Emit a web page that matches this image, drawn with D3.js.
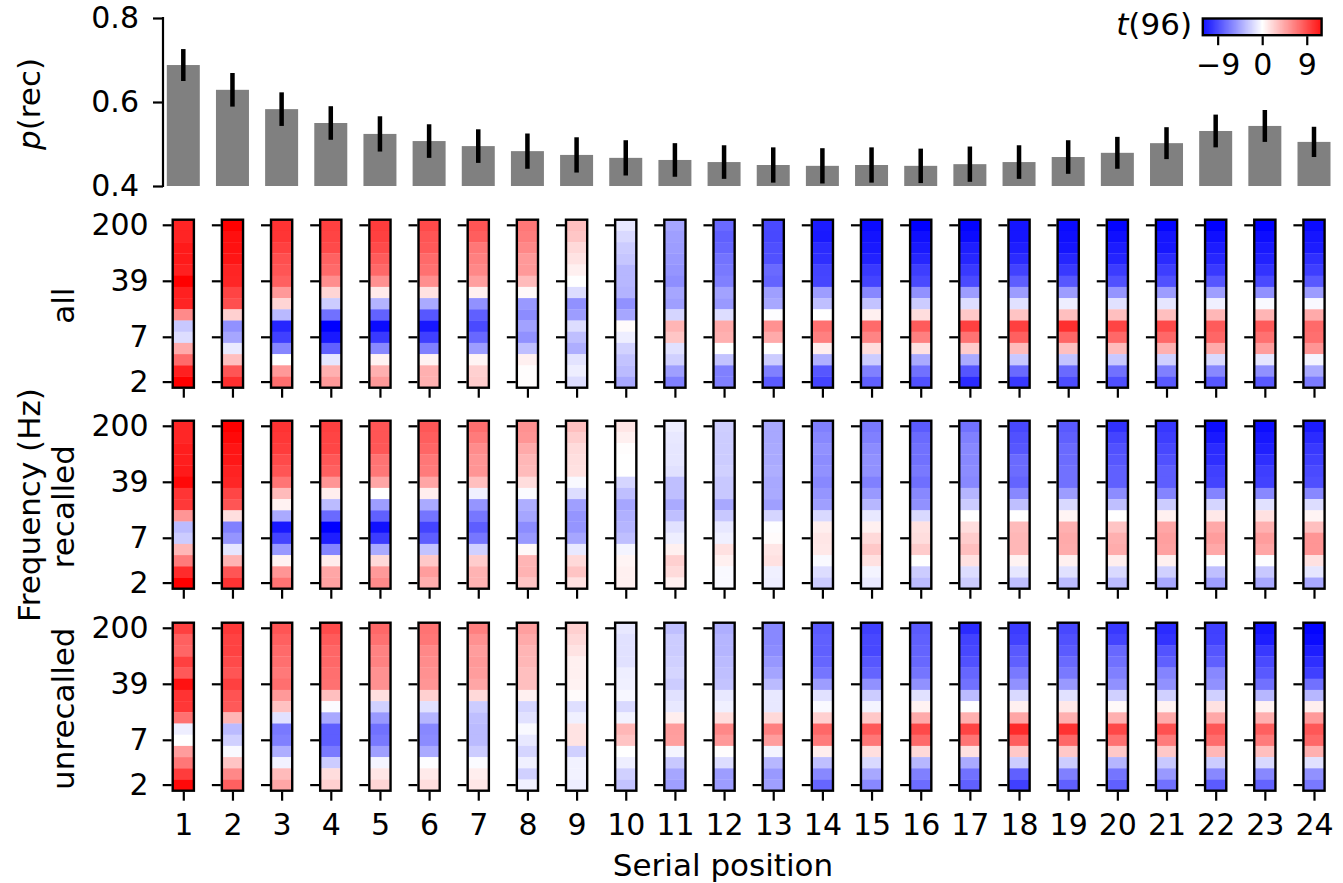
<!DOCTYPE html>
<html>
<head>
<meta charset="utf-8">
<script src="https://cdnjs.cloudflare.com/ajax/libs/d3/7.8.5/d3.min.js"></script>
<style>
	html, body { margin: 0; padding: 0; background: #fff; }
	text { font-family: "DejaVu Sans", sans-serif; fill: #000; }
</style>
</head>
<body>
<div id="fig"></div>
<script>
	// serial positions, one column per position
	var positions = d3.range(1, 25);

	// recall probability per position, with the half length of its error bar
	var pRec = [0.688,0.629,0.583,0.550,0.524,0.507,0.495,0.483,0.474,0.467,0.462,0.457,0.450,0.448,0.450,0.448,0.452,0.457,0.469,0.479,0.502,0.531,0.543,0.505];
	var pErr = [0.038,0.040,0.040,0.040,0.042,0.040,0.040,0.042,0.042,0.042,0.040,0.040,0.042,0.042,0.042,0.041,0.042,0.040,0.040,0.038,0.038,0.039,0.038,0.036];

	// frequency rows, top to bottom
	var freqs = ["200","144","104","75","54","39","28","20","14","10","7","5","4","3","2"];
	var freqTicks = ["200","39","7","2"];
	var pTicks = [0.4, 0.6, 0.8];
	var tTicks = [-9, 0, 9];

	// t values, one list of 15 rows for each serial position
	var tAll = [
		[10.3,10.3,10.8,10.8,10.5,12,10.5,10.3,5.5,-2.6,-1.6,4,7,10.5,12],
		[12,11.3,11.2,11,10.3,10.2,8.8,8.3,2.2,-5.2,-4.2,-1,3,8,9.8],
		[9.6,9.5,9,8.3,8,7.5,4.8,2,-3.3,-10.2,-9,-5.7,0,4.8,6.8],
		[9,8.8,8.5,7.4,7,5.3,2,-2.4,-6.7,-12,-10.8,-7.5,-1.2,3.7,4.8],
		[9.2,9,8.5,7.7,7.1,5.2,1,-3.6,-7.4,-11.5,-9.3,-5.6,0.6,3.7,4.8],
		[8.5,8,7.8,7,6.7,5.3,1.4,-4,-7.9,-10.9,-9,-6,0.6,3.7,3.7],
		[8,7.6,6.4,6,5.6,4.5,0.7,-5.2,-7.5,-8.5,-7.1,-4.6,0.5,2.2,2.4],
		[6.4,6.1,5.6,4.8,4.8,3.2,0.3,-4.8,-5.4,-4.4,-5.2,-3,0.7,0.1,0.1],
		[3,2.7,1.8,1.3,0.7,0,-1.6,-5.2,-4.6,-1.6,-3,-3.8,-1.3,-0.8,-1.6],
		[-1.1,-1.8,-2.4,-2.7,-3.4,-3.4,-3.6,-5.2,-4.2,0.2,-0.8,-2.1,-2.8,-3.2,-4.1],
		[-4.2,-4.5,-4.6,-4.8,-5,-5.3,-4.2,-4.5,-2,3.5,2.7,-1.4,-2.2,-4.5,-6],
		[-7,-7.5,-7.2,-6.6,-6.3,-6,-4.4,-4.8,-1.6,4,3.7,0,-2.8,-6,-6],
		[-8.5,-8.6,-8.3,-8.2,-7,-7.3,-4.5,-4.1,-0.1,5.2,4,0,-2.4,-6,-7.7],
		[-10.7,-10.8,-10,-9.8,-8.8,-8.7,-4.6,-3,0,6.7,6,0.8,-3.7,-7.9,-8.8],
		[-11.5,-11.1,-10.8,-10.4,-9.3,-8.8,-5.6,-2.8,0.7,7,5.8,1.6,-2.4,-6,-7.5],
		[-12,-11.3,-10.8,-10.2,-9.1,-8.5,-5.2,-2.4,1.6,7.7,6,1.4,-4,-6.7,-8.2],
		[-11.8,-11.5,-10.6,-10.2,-9.3,-8.5,-4.6,-1.6,2.6,9,6.6,2.4,-4,-8,-10],
		[-11,-11,-10.6,-10,-8.9,-7.6,-4.6,-1.4,2.8,9,7.5,3.2,-2.6,-7,-9.3],
		[-11.5,-11.3,-11,-10.2,-9.3,-7.9,-4.6,-0.8,3,9.8,7.2,3,-2.8,-7,-8.4],
		[-11.8,-11.3,-10.7,-10.3,-9.2,-8.2,-5,-1.4,3,8.8,7.1,3.2,-2.6,-6.7,-8.3],
		[-11.8,-11,-10.9,-10,-9.1,-8.2,-4.6,-1.2,3,8.5,7.1,3.7,-2.2,-6,-7.8],
		[-12,-11.3,-10.7,-10.2,-9.3,-7.9,-4.5,-0.7,3.4,7.7,7.2,4,-1.8,-5.6,-7.9],
		[-12,-11.4,-10.8,-10.4,-9.6,-8.5,-5.2,-0.3,3.5,7.7,6.7,4.6,-1.2,-5.2,-7.8],
		[-11.5,-11,-10.7,-9.8,-9.1,-7.8,-4.6,-0.3,4,7,6.8,5,-0.5,-4,-6.2]
	];

	var tRecalled = [
		[10.2,10.2,10.6,10.6,10.8,11.6,9.5,9.3,5,-3.2,-2.4,3.4,6.2,10,12],
		[12,11.6,11,10.9,10.4,10.2,8.7,8,1.5,-6,-5,-1.2,3.6,8,9.6],
		[9.6,9.4,9.2,8.5,8,6.5,3.2,0.6,-4,-10.8,-8.8,-4.8,0.6,5,6.6],
		[9,8.8,8.7,7.9,7.5,5,0.8,-3.2,-7,-12,-10.6,-5.8,0.9,4.2,4.4],
		[8,8,7.9,6.6,6.4,4.2,0,-4.6,-7.5,-11.2,-9.2,-4,1.8,4.8,5.5],
		[7.9,7.6,7.2,6.4,6.2,4.2,0.8,-4,-6.5,-8.8,-7.6,-2.8,2.6,4.6,3.8],
		[6.8,6.2,5.4,5,5,3,-0.7,-5,-6.4,-7.6,-6.4,-2.2,2.4,3.6,3.6],
		[5.2,5,4,3.4,3.2,1.6,-0.2,-3.8,-4.2,-5.4,-4.8,0.3,3.5,3.6,2.8],
		[3,2.3,1.7,1.5,1.4,-0.3,-1.6,-4.5,-5,-5,-4.2,-1.1,1.8,2.8,1.4],
		[1.2,0.7,0.1,0,0,-2,-3,-4.2,-3.7,-3.5,-3,-0.5,0.5,0.7,0.7],
		[-0.8,-1.1,-1.2,-1.2,-1.4,-3,-3,-4,-3,-1.4,-0.8,0.7,2.2,1.7,0.7],
		[-2.3,-2.4,-2.4,-2.4,-2.2,-2.6,-2.6,-4.1,-2.6,-1.1,-0.7,1.4,0.7,-0.3,-0.3],
		[-4.1,-4.1,-4,-4,-3.8,-4.1,-4,-4.5,-2,-0.1,0.2,1.2,1.4,-0.7,-0.8],
		[-6,-5.6,-5.2,-5.4,-5.2,-5.6,-5,-4.5,-1.8,0.8,1.2,1.1,-0.3,-1.6,-2.4],
		[-6.3,-6,-5.4,-5.2,-5.2,-6,-4.8,-3.4,-1.1,0.7,1.8,2.6,1.4,-0.5,-1],
		[-7.7,-7,-6.7,-6.7,-6.3,-6.8,-5.6,-5.2,-1.8,1.4,1.6,2.4,0,-2.4,-3.2],
		[-6.7,-6,-5.6,-5.6,-5.4,-5.6,-3.5,-2.4,0,1.6,2.4,3,1.4,-1.6,-2.4],
		[-8.6,-8.2,-7.9,-7,-6.9,-7.3,-5.6,-3,0,3.2,3.4,3.4,0.6,-1.2,-3],
		[-7.8,-7.5,-7,-6.9,-6.7,-6.7,-4.6,-1.8,0.5,3.7,4,3.9,0.7,-1.4,-3.2],
		[-9.7,-8.8,-8.2,-7.9,-7.5,-7.5,-5.4,-3,0,2.8,3.7,3.9,0.8,-1.8,-3.2],
		[-9.4,-9.1,-8.6,-8.2,-7.6,-7.6,-5.8,-2.4,0.7,4.2,4.5,4.4,0.7,-2.2,-4.1],
		[-11.4,-10.8,-10,-9.8,-9,-8.8,-5.8,-2,1.1,4.1,4.6,4.1,-0.1,-3,-4.5],
		[-11.4,-10.9,-10.5,-9.8,-9.1,-8.9,-5.6,-1.4,1.4,3.7,4.6,4.2,-0.1,-2.6,-4.1],
		[-10.7,-10,-9.3,-9,-8.5,-8.3,-5.6,-1.6,0.5,3,5,5,1.4,-1.2,-4.1]
	];

	var tUnrecalled = [
		[9,7.5,7.2,9,7.8,11.2,9.6,9.4,6.7,-0.8,0,4.6,6.4,9.2,11.6],
		[9.3,8.9,8.9,8.5,8,9,8.1,7.8,3.5,-3.2,-2.2,-0.3,2.8,5.6,7.5],
		[8,7.5,7,6.8,6.3,6.8,4.8,2.9,-1.4,-6.3,-6,-3.8,-0.6,3.2,4.2],
		[8.4,7.7,7.2,7.1,6.8,6.7,3,-0.2,-4.1,-7.6,-7.6,-6.3,-2.4,1.6,2.2],
		[7.1,6.7,5.9,5.9,5.2,5.2,1.5,-2.2,-4.8,-6.7,-6.3,-4.5,-0.5,1.2,2],
		[6.6,6.4,5.6,5.4,5.2,5,2.2,-1.4,-3.5,-5.6,-5.4,-4,-0.1,1,1.6],
		[6,5.2,4.6,4.8,4.6,4.2,1.8,-2.4,-3,-3.2,-3.2,-2.4,-0.2,0.8,1.2],
		[4.5,4,3.5,3.4,3,3,0.7,-2,-1.4,-0.3,-1.1,-2,-0.7,-2.2,-0.7],
		[2.2,1.8,1.3,0.7,0.7,0.6,0.2,-1.5,-0.7,1.3,1.3,-2.2,-0.6,-0.6,-0.8],
		[-1.1,-1.4,-1.4,-1.4,-0.8,-0.7,-0.4,-1.8,-0.6,3.4,2.8,0,-0.8,-2.2,-2.8],
		[-3,-2.4,-2.4,-2.2,-2,-2.4,-1.4,-1.1,0.8,4.6,4.5,-0.5,-2.6,-4.2,-4.5],
		[-3.8,-3.5,-3.5,-3.2,-3,-2.8,-1.1,-0.7,1.6,5.6,4.8,0.1,-1.6,-4.6,-4.6],
		[-5.6,-5.6,-5.4,-4.9,-4.3,-3.2,-1.1,-1.1,1.8,6,4.6,-0.5,-3.4,-4.8,-4.5],
		[-7.7,-7.5,-7.5,-7.2,-6.5,-4.6,-1.4,-0.3,2.2,7.1,6.2,0.8,-3,-5.6,-7.2],
		[-9,-8.6,-8.6,-7.9,-7.3,-5.2,-2.4,-0.5,2.6,7.8,6.4,1.5,-1.8,-4.1,-5.6],
		[-7.7,-7.5,-7.3,-7.1,-6.5,-5.2,-1.4,0.6,4,8.5,7,1.8,-3.4,-6,-6.9],
		[-10,-8.9,-8.6,-8.2,-7.2,-6.7,-3.2,-0.1,3.7,8.8,6.5,1.4,-4,-6.7,-7.5],
		[-9.2,-8.9,-7.8,-7.5,-6.3,-5.2,-1.8,0.7,4.2,10,7.6,2.6,-2.4,-7.5,-9],
		[-8.6,-8.2,-7.7,-7,-6.3,-4.8,-1.4,1.1,3.7,9.6,7.1,2.6,-2.4,-6,-7.5],
		[-9.3,-8.8,-7.1,-6.7,-6,-5.2,-2.2,0.3,3.7,8.6,6.7,2.6,-3.5,-6.5,-7.5],
		[-10,-9.6,-8.1,-7.5,-5.8,-5.2,-2.2,0.6,4,8.2,6.2,2.6,-2.6,-4.8,-6.7],
		[-9,-8.9,-8,-7.5,-5.6,-5.2,-2.2,1.4,4.1,7.9,6.9,3.4,-2.4,-5.6,-7.7],
		[-11,-10.6,-9.3,-8.5,-7.8,-6.7,-3.4,0.6,3.7,7.5,6.2,3,-1.8,-5.6,-7.3],
		[-11.8,-11.5,-10.6,-9.8,-9,-6.7,-3.4,0.8,4.8,7.9,7.1,3.7,-1.4,-5.2,-6.3]
	];

	var panelNames = ["all", "recalled", "unrecalled"];
	var panelData = [tAll, tRecalled, tUnrecalled];
	var panelTops = [219.7, 420.7, 622.7];

	var tickFont = 30;
	var labelFont = 31;
	var tmax = 12;

	var svg = d3.select("#fig")
		.append("svg")
		.attr("width", 1343)
		.attr("height", 883)
		.style("display", "block");

	// bwr colour map
	var color = d3.scaleLinear()
		.domain([-tmax, 0, tmax])
		.range(["#0000ff", "#ffffff", "#ff0000"]);

	// centre of each serial position, shared by all panels
	var xPos = d3.scaleLinear().domain([1, 24]).range([183.3, 1314]);
	var barWidth = 33;
	var imgWidth = 21.2;

	// style the tick lines and labels of an axis group
	function styleAxis(g, showLabels) {
		g.select(".domain").remove();
		g.selectAll(".tick line").attr("stroke", "#000").attr("stroke-width", 2.2);
		g.selectAll(".tick text")
			.attr("font-size", tickFont)
			.style("display", showLabels ? null : "none");
	}

	// ---- recall probability bars ----
	var yBar = d3.scaleLinear().domain([0.4, 0.8]).range([186, 18]);

	svg.append("g").selectAll("rect")
		.data(positions)
		.enter()
		.append("rect")
		.attr("x", function(d) { return xPos(d) - barWidth / 2; })
		.attr("y", function(d, i) { return yBar(pRec[i]); })
		.attr("width", barWidth)
		.attr("height", function(d, i) { return yBar(0.4) - yBar(pRec[i]); })
		.attr("fill", "#808080");

	svg.append("g").selectAll("line")
		.data(positions)
		.enter()
		.append("line")
		.attr("x1", function(d) { return xPos(d); })
		.attr("x2", function(d) { return xPos(d); })
		.attr("y1", function(d, i) { return yBar(pRec[i] - pErr[i]); })
		.attr("y2", function(d, i) { return yBar(pRec[i] + pErr[i]); })
		.attr("stroke", "#000")
		.attr("stroke-width", 4.5);

	var barAxis = svg.append("g")
		.attr("transform", "translate(163,0)")
		.call(d3.axisLeft(yBar).tickValues(pTicks).tickFormat(d3.format(".1f")).tickSize(10).tickPadding(14));
	styleAxis(barAxis, true);
	barAxis.append("line")
		.attr("y1", yBar(0.8) - 1)
		.attr("y2", yBar(0.4) + 1)
		.attr("stroke", "#000")
		.attr("stroke-width", 2.2);

	// ---- time-frequency strips, one small axes per position ----
	panelData.forEach(function(data, p) {
		var yRow = d3.scaleBand().domain(freqs).range([panelTops[p], panelTops[p] + 168]);
		var panel = svg.append("g").attr("class", "panel");

		positions.forEach(function(pos, c) {
			var left = xPos(pos) - imgWidth / 2;
			var strip = panel.append("g");

			strip.selectAll("rect.cell")
				.data(data[c])
				.enter()
				.append("rect")
				.attr("class", "cell")
				.attr("x", left)
				.attr("y", function(d, i) { return yRow(freqs[i]); })
				.attr("width", imgWidth)
				.attr("height", yRow.bandwidth() + 0.3)
				.attr("fill", function(d) { return color(d); });

			// frame around the strip
			strip.append("rect")
				.attr("x", left)
				.attr("y", panelTops[p])
				.attr("width", imgWidth)
				.attr("height", 168)
				.attr("fill", "none")
				.attr("stroke", "#000")
				.attr("stroke-width", 2.4);

			var yAxis = strip.append("g")
				.attr("transform", "translate(" + (left - 1) + ",0)")
				.call(d3.axisLeft(yRow).tickValues(freqTicks).tickSize(9).tickPadding(14));
			styleAxis(yAxis, c == 0);

			// only the tick mark under the strip, its number goes in the last panel
			var xOne = d3.scaleLinear().domain([pos - 1, pos + 1]).range([xPos(pos - 1), xPos(pos + 1)]);
			var xAxis = strip.append("g")
				.attr("transform", "translate(0," + (panelTops[p] + 169) + ")")
				.call(d3.axisBottom(xOne).tickValues([pos]).tickFormat(d3.format("d")).tickSize(9).tickPadding(13));
			styleAxis(xAxis, p == 2);
		});

		// row title
		svg.append("text")
			.attr("transform", "translate(63," + (panelTops[p] + 86) + ") rotate(-90)")
			.attr("text-anchor", "middle")
			.attr("dy", "0.36em")
			.attr("font-size", labelFont)
			.text(panelNames[p]);
	});

	// ---- axis titles ----
	var pLabel = svg.append("text")
		.attr("transform", "translate(29,104) rotate(-90)")
		.attr("text-anchor", "middle")
		.attr("dy", "0.36em")
		.attr("font-size", labelFont);
	pLabel.append("tspan").attr("font-style", "italic").text("p");
	pLabel.append("tspan").text("(rec)");

	svg.append("text")
		.attr("transform", "translate(29,505) rotate(-90)")
		.attr("text-anchor", "middle")
		.attr("dy", "0.36em")
		.attr("font-size", labelFont)
		.text("Frequency (Hz)");

	svg.append("text")
		.attr("x", 723)
		.attr("y", 876)
		.attr("text-anchor", "middle")
		.attr("font-size", labelFont)
		.text("Serial position");

	// ---- colour bar ----
	var xBar = d3.scaleLinear().domain([-tmax, tmax]).range([1202.8, 1321.6]);
	var barTop = 18.5, barHeight = 16.7;

	svg.append("g").selectAll("rect")
		.data(d3.range(-tmax, tmax, 0.1))
		.enter()
		.append("rect")
		.attr("x", function(d) { return xBar(d); })
		.attr("y", barTop)
		.attr("width", xBar(0.2) - xBar(0.1) + 0.3)
		.attr("height", barHeight)
		.attr("fill", function(d) { return color(d); });

	svg.append("rect")
		.attr("x", xBar(-tmax))
		.attr("y", barTop)
		.attr("width", xBar(tmax) - xBar(-tmax))
		.attr("height", barHeight)
		.attr("fill", "none")
		.attr("stroke", "#000")
		.attr("stroke-width", 2.4);

	var cbAxis = svg.append("g")
		.attr("transform", "translate(0," + (barTop + barHeight + 1) + ")")
		.call(d3.axisBottom(xBar).tickValues(tTicks).tickFormat(function(d) { return d < 0 ? "\u2212" + (-d) : d; }).tickSize(9).tickPadding(9));
	styleAxis(cbAxis, true);

	var tLabel = svg.append("text")
		.attr("x", 1192)
		.attr("y", 35)
		.attr("text-anchor", "end")
		.attr("font-size", labelFont);
	tLabel.append("tspan").attr("font-style", "italic").text("t");
	tLabel.append("tspan").text("(96)");
</script>
</body>
</html>
